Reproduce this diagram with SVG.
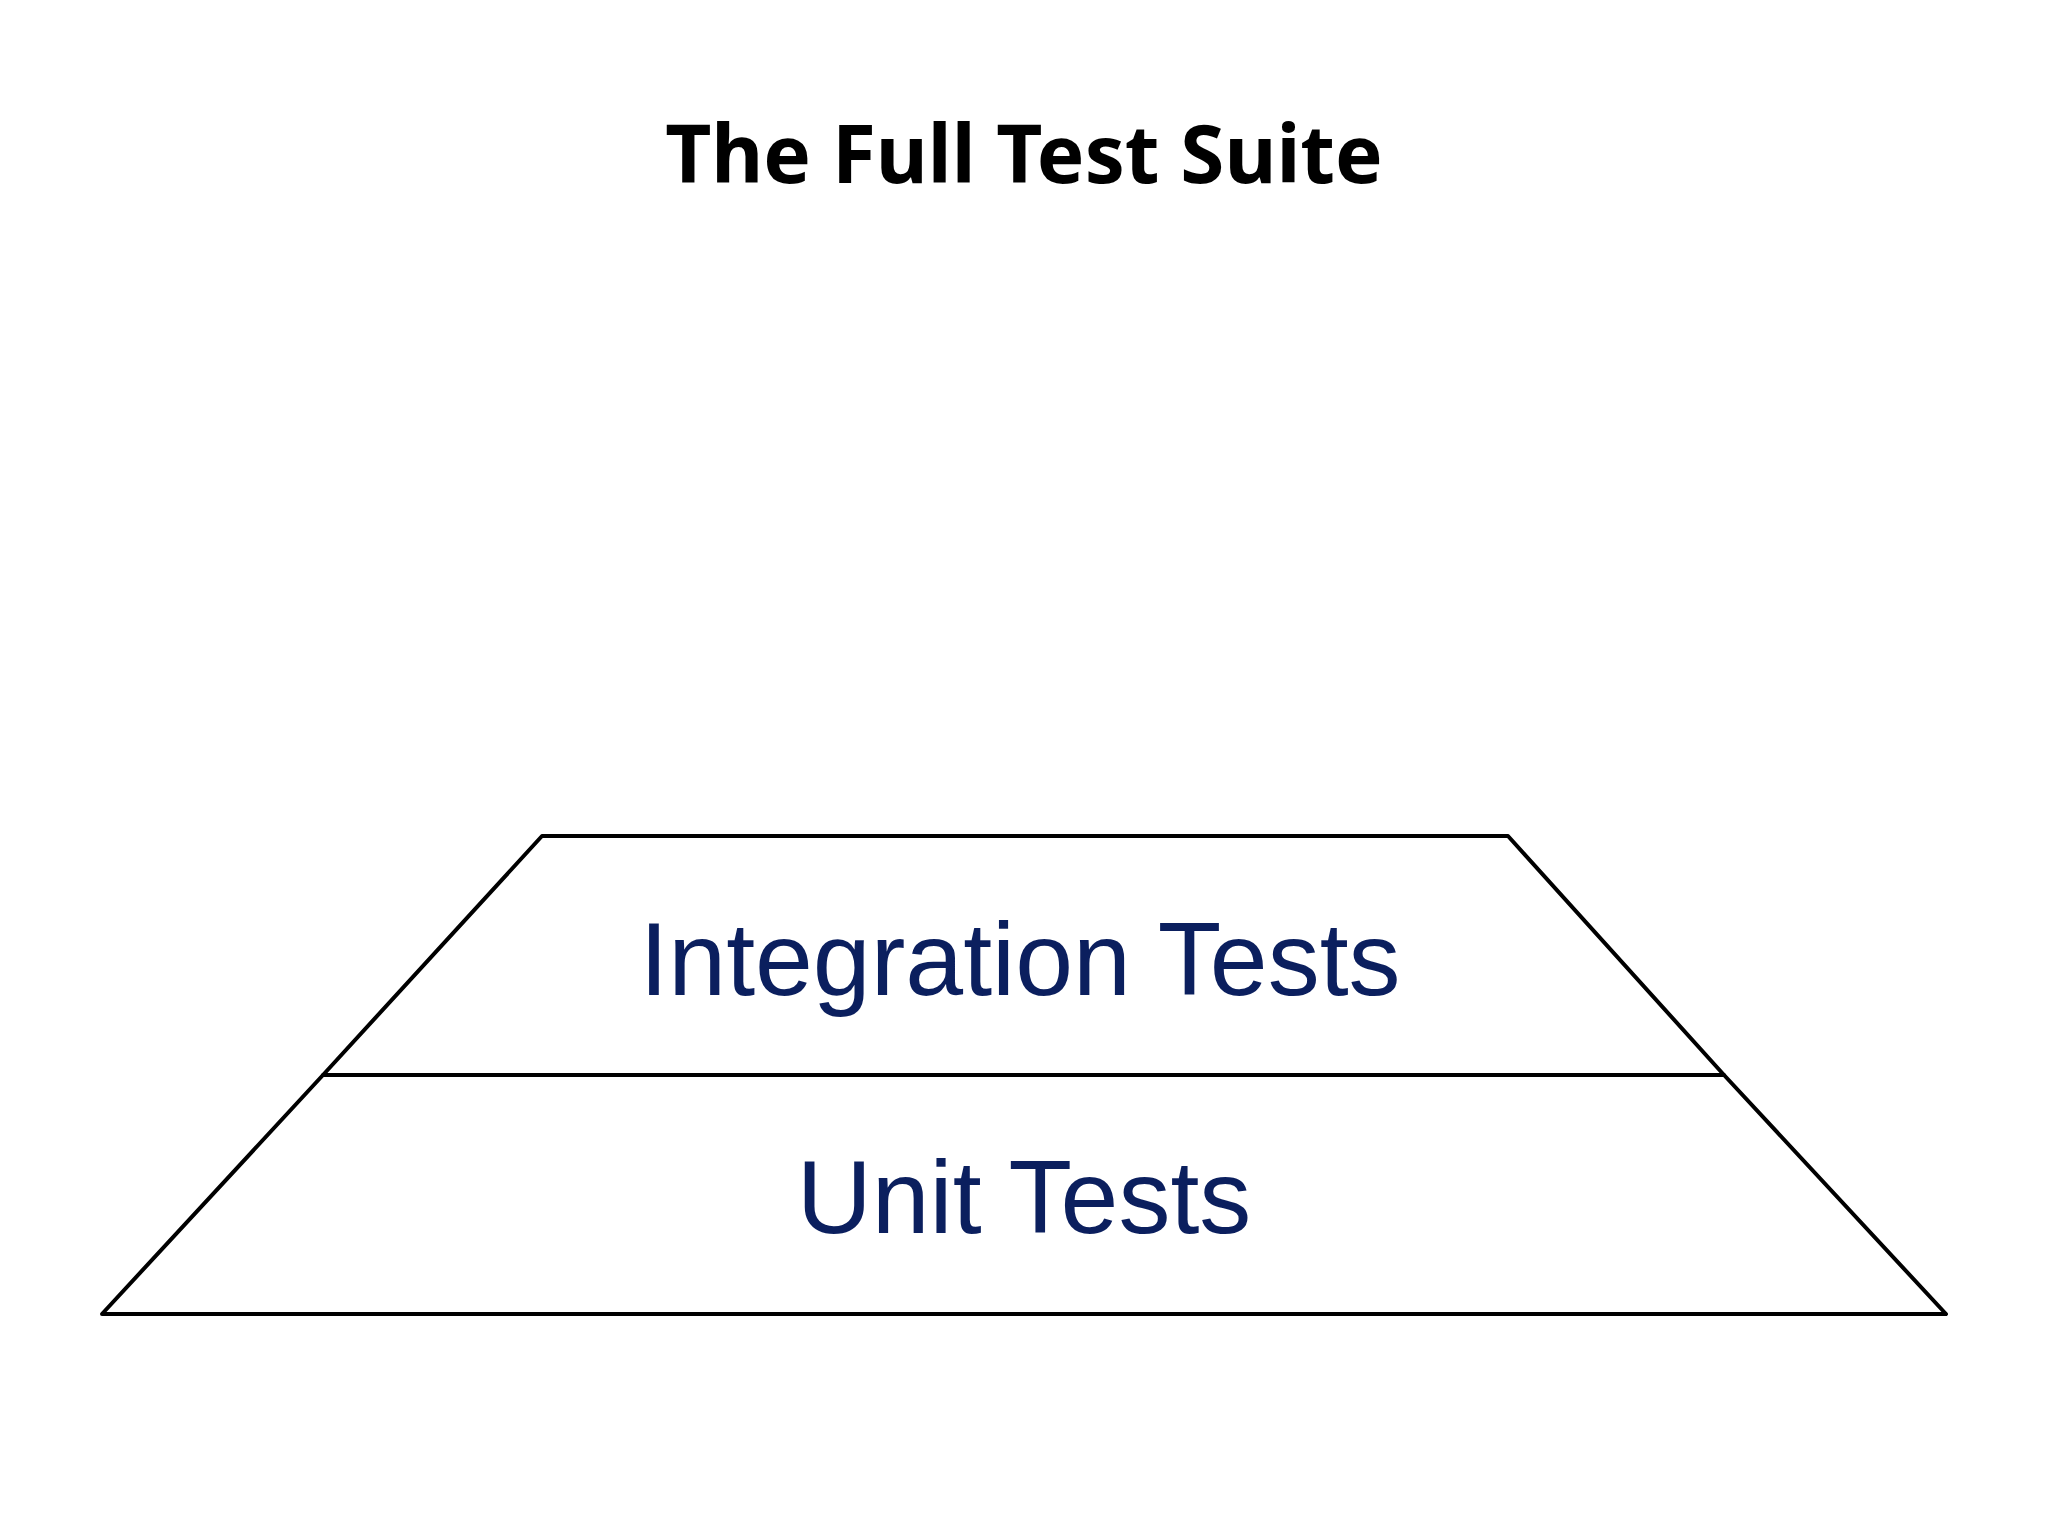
<svg xmlns="http://www.w3.org/2000/svg" width="2048" height="1536" viewBox="0 0 2048 1536">
<style>
.edge{fill:none;stroke:#000;stroke-width:4;stroke-linejoin:round}
.lbl{font-family:"Liberation Sans",Arial,sans-serif;font-size:104px;fill:#0b1f5e;text-anchor:middle}
.title{font-family:"Noto Sans","Open Sans",sans-serif;font-weight:bold;font-size:80px;fill:#000;text-anchor:middle}
</style>
<rect width="2048" height="1536" fill="#fff"/>
<text class="title" x="1024" y="183">The Full Test Suite</text>
<g id="integration">
<path class="edge" d="M542 836 L1508 836 L1724 1075 L323 1075 Z"/>
<text class="lbl" x="1020" y="995">Integration Tests</text>
</g>
<g id="unit">
<path class="edge" d="M323 1075 L1724 1075 L1946 1314 L102 1314 Z"/>
<text class="lbl" x="1024" y="1233">Unit Tests</text>
</g>
<g id="connectors"/>
</svg>
